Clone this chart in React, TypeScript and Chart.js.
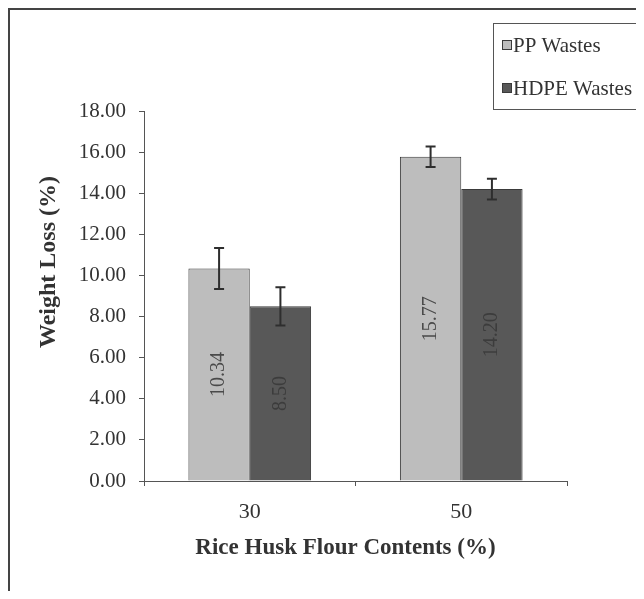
import React, { useEffect, useRef } from 'react';
import { Chart, registerables } from 'chart.js';

Chart.register(...registerables);

const categories = ['30', '50'];
const seriesNames = ['PP Wastes', 'HDPE Wastes'];
const ppValues = [10.34, 15.77];
const hdpeValues = [8.5, 14.2];
const ppErrors = [1.0, 0.5];
const hdpeErrors = [0.93, 0.5];
const yMin = 0;
const yMax = 18;
const yStep = 2;
const xTitle = 'Rice Husk Flour Contents (%)';
const yTitle = 'Weight Loss (%)';

const SERIF = '"Liberation Serif", "Times New Roman", serif';
const INK = '#333333';

const overlay = {
  id: 'overlay',
  afterDatasetsDraw(chart: any) {
    const ctx = chart.ctx;
    const ys = chart.scales.y;
    chart.data.datasets.forEach((ds: any, di: number) => {
      const meta = chart.getDatasetMeta(di);
      meta.data.forEach((bar: any, i: number) => {
        const v = ds.data[i];
        const p = bar.getProps(['x', 'y', 'base'], true);
        // value label (rotated)
        ctx.save();
        ctx.translate(p.x, (p.y + p.base) / 2);
        ctx.rotate(-Math.PI / 2);
        ctx.font = `20px ${SERIF}`;
        ctx.fillStyle = ds.labelColor;
        ctx.textAlign = 'center';
        ctx.textBaseline = 'middle';
        ctx.fillText(v.toFixed(2), 0, 0);
        ctx.restore();
        // error bar
        const e = ds.errors[i];
        const t = ys.getPixelForValue(v + e);
        const b = ys.getPixelForValue(v - e);
        ctx.save();
        ctx.strokeStyle = '#2e2e2e';
        ctx.lineWidth = 2;
        ctx.beginPath();
        ctx.moveTo(p.x, t);
        ctx.lineTo(p.x, b);
        ctx.moveTo(p.x - 5, t);
        ctx.lineTo(p.x + 5, t);
        ctx.moveTo(p.x - 5, b);
        ctx.lineTo(p.x + 5, b);
        ctx.stroke();
        ctx.restore();
      });
    });
  },
  afterDraw(chart: any) {
    const ctx = chart.ctx;
    const area = chart.chartArea;
    // y title
    ctx.save();
    ctx.translate(39, 252);
    ctx.rotate(-Math.PI / 2);
    ctx.font = `bold 24px ${SERIF}`;
    ctx.fillStyle = INK;
    ctx.textAlign = 'center';
    ctx.textBaseline = 'middle';
    ctx.fillText(yTitle, 0, 0);
    ctx.restore();
    // x title
    ctx.save();
    ctx.font = `bold 23px ${SERIF}`;
    ctx.fillStyle = INK;
    ctx.textAlign = 'center';
    ctx.textBaseline = 'middle';
    ctx.fillText(xTitle, (area.left + area.right) / 2 - 10, 538);
    ctx.restore();
    // legend
    ctx.save();
    ctx.strokeStyle = '#555';
    ctx.lineWidth = 1;
    ctx.strokeRect(483.5, 13.5, 220, 86);
    chart.data.datasets.forEach((ds: any, di: number) => {
      const cy = 35 + di * 43;
      ctx.fillStyle = ds.backgroundColor;
      ctx.fillRect(492, cy - 5, 10, 10);
      ctx.strokeStyle = '#3a3a3a';
      ctx.strokeRect(492.5, cy - 4.5, 9, 9);
      ctx.font = `21px ${SERIF}`;
      ctx.fillStyle = INK;
      ctx.textAlign = 'left';
      ctx.textBaseline = 'middle';
      ctx.fillText(ds.label, 503, cy + 1);
    });
    ctx.restore();
  },
};

export default function App() {
  const ref = useRef<HTMLCanvasElement>(null);
  useEffect(() => {
    if (!ref.current) return;
    const chart = new Chart(ref.current, {
      type: 'bar',
      data: {
        labels: categories,
        datasets: [
          {
            label: seriesNames[0],
            data: ppValues,
            errors: ppErrors,
            labelColor: '#4a4a4a',
            backgroundColor: '#bdbdbd',
            borderColor: '#3a3a3a',
            borderWidth: 1,
            categoryPercentage: 0.58,
            barPercentage: 1,
          } as any,
          {
            label: seriesNames[1],
            data: hdpeValues,
            errors: hdpeErrors,
            labelColor: '#3c3c3c',
            backgroundColor: '#585858',
            borderColor: '#3a3a3a',
            borderWidth: 1,
            categoryPercentage: 0.58,
            barPercentage: 1,
          } as any,
        ],
      },
      options: {
        responsive: false,
        animation: false,
        layout: { padding: { top: 101, right: 77, left: 0, bottom: 0 } },
        plugins: {
          legend: { display: false },
          tooltip: { enabled: false },
        },
        scales: {
          x: {
            afterFit: (s: any) => {
              s.height = 110;
            },
            grid: {
              drawOnChartArea: false,
              drawTicks: true,
              tickLength: 5,
              color: '#555',
            },
            border: { display: true, color: '#555', width: 1 },
            ticks: {
              padding: 13,
              color: INK,
              font: { family: SERIF, size: 22 },
            },
          },
          y: {
            min: yMin,
            max: yMax,
            afterFit: (s: any) => {
              s.width = 134;
            },
            grid: {
              drawOnChartArea: false,
              drawTicks: true,
              tickLength: 5,
              color: '#555',
            },
            border: { display: true, color: '#555', width: 1 },
            ticks: {
              stepSize: yStep,
              padding: 13,
              color: INK,
              font: { family: SERIF, size: 21 },
              callback: (v: any) => Number(v).toFixed(2),
            },
          },
        },
      } as any,
      plugins: [overlay],
    });
    return () => chart.destroy();
  }, []);
  return (
    <div
      style={{
        width: 636,
        height: 583,
        boxSizing: 'border-box',
        borderLeft: '2px solid #444',
        borderTop: '2px solid #444',
        overflow: 'hidden',
      }}
    >
      <canvas ref={ref} width={634} height={581} style={{ display: 'block' }} />
    </div>
  );
}
